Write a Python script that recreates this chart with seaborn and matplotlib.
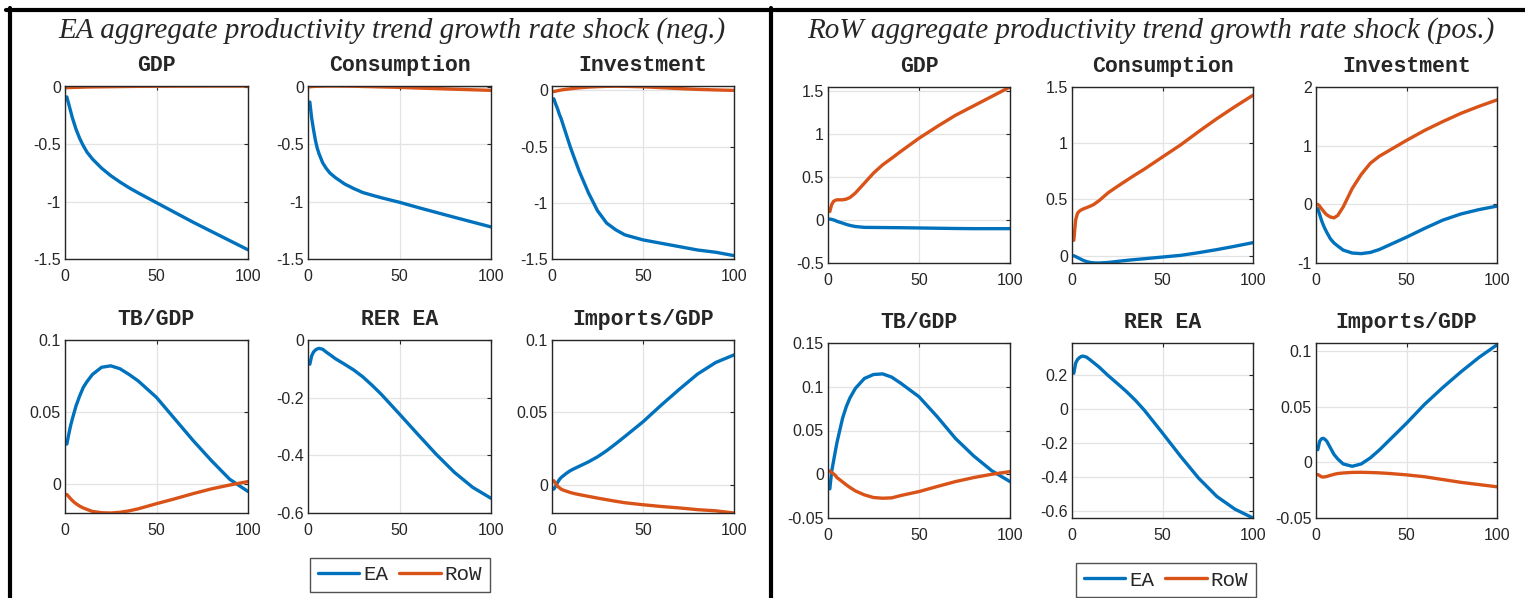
import numpy as np
import pandas as pd
import seaborn as sns
import matplotlib.pyplot as plt
from matplotlib import font_manager
from matplotlib.lines import Line2D
from matplotlib.ticker import FuncFormatter

t = [1, 2, 3, 4, 5, 6, 8, 10, 12, 15, 20, 25, 30, 35, 40, 50, 60, 70, 80, 90, 100]

# ---- EA aggregate productivity trend growth rate shock (neg.)
neg_gdp_ea = [-0.09, -0.15, -0.21, -0.27, -0.32, -0.37, -0.45, -0.515, -0.57, -0.63, -0.71, -0.775, -0.83,
              -0.88, -0.925, -1.01, -1.095, -1.18, -1.26, -1.34, -1.42]
neg_gdp_row = [-0.01, -0.009, -0.008, -0.008, -0.007, -0.007, -0.006, -0.005, -0.004, -0.003, -0.002,
               -0.001, 0.0, 0.001, 0.002, 0.003, 0.004, 0.004, 0.005, 0.005, 0.005]
neg_cons_ea = [-0.13, -0.27, -0.37, -0.46, -0.53, -0.58, -0.66, -0.71, -0.75, -0.79, -0.845, -0.885, -0.92,
               -0.943, -0.965, -1.005, -1.05, -1.093, -1.136, -1.178, -1.22]
neg_cons_row = [0.003, 0.005, 0.006, 0.007, 0.008, 0.008, 0.009, 0.01, 0.01, 0.01, 0.009, 0.008, 0.006,
                0.004, 0.002, -0.002, -0.008, -0.013, -0.018, -0.023, -0.028]
neg_inv_ea = [-0.074, -0.12, -0.16, -0.21, -0.25, -0.30, -0.40, -0.50, -0.59, -0.72, -0.91, -1.07, -1.18,
              -1.24, -1.285, -1.33, -1.36, -1.39, -1.42, -1.44, -1.47]
neg_inv_row = [-0.01, -0.006, -0.002, 0.001, 0.004, 0.007, 0.011, 0.015, 0.019, 0.024, 0.03, 0.034, 0.037,
               0.038, 0.037, 0.033, 0.025, 0.017, 0.01, 0.005, 0.001]
neg_tb_ea = [0.0275, 0.034, 0.040, 0.045, 0.0495, 0.054, 0.061, 0.067, 0.071, 0.076, 0.081, 0.082, 0.080,
             0.076, 0.0715, 0.060, 0.045, 0.030, 0.016, 0.003, -0.0055]
neg_tb_row = [-0.0076, -0.009, -0.0105, -0.0118, -0.013, -0.014, -0.0157, -0.017, -0.018, -0.0194, -0.0203,
              -0.0205, -0.020, -0.019, -0.0176, -0.014, -0.0106, -0.007, -0.0037, -0.001, 0.0014]
neg_rer_ea = [-0.084, -0.055, -0.042, -0.035, -0.031, -0.029, -0.032, -0.042, -0.051, -0.065, -0.084, -0.104,
              -0.128, -0.157, -0.188, -0.257, -0.327, -0.396, -0.459, -0.511, -0.549]
neg_imp_ea = [-0.003, -0.001, 0.0015, 0.0035, 0.005, 0.006, 0.008, 0.0097, 0.011, 0.0128, 0.0158, 0.0193,
              0.0235, 0.0283, 0.0333, 0.0435, 0.055, 0.066, 0.0765, 0.0845, 0.0897]
neg_imp_row = [0.0028, 0.001, -0.001, -0.002, -0.003, -0.0036, -0.0045, -0.0053, -0.006, -0.0068, -0.008,
               -0.0092, -0.0103, -0.0114, -0.0124, -0.0138, -0.015, -0.016, -0.0172, -0.018, -0.0195]

# ---- RoW aggregate productivity trend growth rate shock (pos.)
pos_gdp_ea = [0.012, 0.008, 0.002, -0.005, -0.015, -0.022, -0.035, -0.05, -0.062, -0.075, -0.085, -0.086,
              -0.087, -0.088, -0.089, -0.092, -0.095, -0.098, -0.1, -0.1, -0.1]
pos_gdp_row = [0.10, 0.18, 0.217, 0.23, 0.236, 0.236, 0.236, 0.244, 0.262, 0.314, 0.43, 0.547, 0.643, 0.72,
               0.80, 0.953, 1.09, 1.22, 1.33, 1.44, 1.55]
pos_cons_ea = [0.0, -0.008, -0.016, -0.024, -0.032, -0.04, -0.052, -0.06, -0.064, -0.065, -0.06, -0.051,
               -0.042, -0.034, -0.027, -0.012, 0.003, 0.027, 0.054, 0.084, 0.116]
pos_cons_row = [0.137, 0.316, 0.376, 0.395, 0.406, 0.414, 0.427, 0.44, 0.455, 0.49, 0.56, 0.615, 0.668,
                0.72, 0.77, 0.878, 0.985, 1.104, 1.218, 1.325, 1.427]
pos_inv_ea = [-0.074, -0.17, -0.27, -0.35, -0.42, -0.48, -0.59, -0.66, -0.71, -0.78, -0.83, -0.84, -0.82,
              -0.77, -0.70, -0.56, -0.41, -0.27, -0.165, -0.09, -0.03]
pos_inv_row = [0.0, -0.03, -0.074, -0.11, -0.15, -0.18, -0.217, -0.23, -0.19, -0.046, 0.27, 0.51, 0.70,
               0.82, 0.91, 1.09, 1.26, 1.41, 1.55, 1.67, 1.78]
pos_tb_ea = [-0.0167, 0.003, 0.0145, 0.026, 0.037, 0.046, 0.064, 0.077, 0.087, 0.098, 0.1095, 0.114, 0.1147,
             0.111, 0.104, 0.0886, 0.0658, 0.041, 0.021, 0.004, -0.0084]
pos_tb_row = [0.0038, 0.002, 0.0005, -0.0013, -0.004, -0.0055, -0.0088, -0.012, -0.015, -0.019, -0.0236,
              -0.0266, -0.0274, -0.027, -0.0243, -0.0198, -0.014, -0.0084, -0.0038, 0.0, 0.003]
pos_rer_ea = [0.212, 0.271, 0.292, 0.303, 0.31, 0.313, 0.307, 0.291, 0.274, 0.248, 0.198, 0.152, 0.105,
              0.053, -0.006, -0.14, -0.277, -0.406, -0.513, -0.588, -0.64]
pos_imp_ea = [0.0113, 0.0188, 0.021, 0.0215, 0.0205, 0.0188, 0.0128, 0.0069, 0.003, -0.0015, -0.0036,
              -0.0015, 0.0039, 0.011, 0.019, 0.035, 0.052, 0.067, 0.081, 0.094, 0.1054]
pos_imp_row = [-0.011, -0.012, -0.013, -0.0133, -0.013, -0.0127, -0.0117, -0.0108, -0.0101, -0.0096,
               -0.0091, -0.009, -0.0092, -0.0095, -0.010, -0.0113, -0.013, -0.0155, -0.018, -0.020, -0.022]

titles = ["GDP", "Consumption", "Investment", "TB/GDP", "RER EA", "Imports/GDP"]
block_titles = ["EA aggregate productivity trend growth rate shock (neg.)",
                "RoW aggregate productivity trend growth rate shock (pos.)"]

neg_series = [(neg_gdp_ea, neg_gdp_row), (neg_cons_ea, neg_cons_row), (neg_inv_ea, neg_inv_row),
              (neg_tb_ea, neg_tb_row), (neg_rer_ea, None), (neg_imp_ea, neg_imp_row)]
pos_series = [(pos_gdp_ea, pos_gdp_row), (pos_cons_ea, pos_cons_row), (pos_inv_ea, pos_inv_row),
              (pos_tb_ea, pos_tb_row), (pos_rer_ea, None), (pos_imp_ea, pos_imp_row)]

neg_yticks = [[-1.5, -1, -0.5, 0], [-1.5, -1, -0.5, 0], [-1.5, -1, -0.5, 0],
              [0, 0.05, 0.1], [-0.6, -0.4, -0.2, 0], [0, 0.05, 0.1]]
pos_yticks = [[-0.5, 0, 0.5, 1, 1.5], [0, 0.5, 1, 1.5], [-1, 0, 1, 2],
              [-0.05, 0, 0.05, 0.1, 0.15], [-0.6, -0.4, -0.2, 0, 0.2], [-0.05, 0, 0.05, 0.1]]
neg_ylim = [(-1.5, 0.005), (-1.5, 0.01), (-1.5, 0.04), (-0.0205, 0.1), (-0.6, 0.0), (-0.0195, 0.1)]
pos_ylim = [(-0.5, 1.55), (-0.065, 1.5), (-1, 2), (-0.05, 0.15), (-0.64, 0.39), (-0.05, 0.107)]

# axes boxes in pixels (left, top, right, bottom) of the 1525x598 canvas
W, H = 1525, 598
neg_cols = [(65, 248), (308, 491), (552, 734)]
neg_rows = [(86, 259), (340, 513)]
pos_cols = [(828, 1010), (1072, 1253), (1316, 1497)]
pos_rows = [(87, 263), (343, 518)]

BLUE = "#0072BD"
ORANGE = "#D95319"
LW = 2.4

sns.set_style("white")
plt.rcParams["axes.unicode_minus"] = False

# MATLAB draws tick labels in a narrow Helvetica; use a narrow face if one is around
installed = {f.name for f in font_manager.fontManager.ttflist}
tick_font = {"family": "Liberation Sans", "size": 11.5}
if "Liberation Sans Narrow" in installed:
    tick_font = {"family": "Liberation Sans Narrow", "size": 13}
elif "DejaVu Sans Condensed" in installed:
    tick_font = {"family": "DejaVu Sans Condensed", "size": 11.5}
plt.rcParams["font.family"] = [tick_font["family"], "DejaVu Sans"]

fig = plt.figure(figsize=(W / 100, H / 100), dpi=100)
fmt = FuncFormatter(lambda v, p: "%g" % v)


def draw_block(series, yticks, ylims, cols, rows):
    for i, (ea, row) in enumerate(series):
        x0, x1 = cols[i % 3]
        y0, y1 = rows[i // 3]
        ax = fig.add_axes([x0 / W, 1 - y1 / H, (x1 - x0) / W, (y1 - y0) / H])
        sns.lineplot(x=t, y=ea, ax=ax, color=BLUE, linewidth=LW, legend=False)
        if row is not None:
            sns.lineplot(x=t, y=row, ax=ax, color=ORANGE, linewidth=LW, legend=False)
        ax.set_xlim(0, 100)
        ax.set_ylim(*ylims[i])
        ax.set_xticks([0, 50, 100])
        ax.set_yticks(yticks[i])
        ax.yaxis.set_major_formatter(fmt)
        ax.xaxis.set_major_formatter(fmt)
        ax.set_xlabel("")
        ax.set_ylabel("")
        ax.grid(True, color="#e3e3e3", linewidth=0.9)
        ax.tick_params(direction="in", length=3, width=0.8, top=True, right=True,
                       labelsize=tick_font["size"], colors="#262626")
        ax.tick_params(axis="x", pad=7)
        ax.tick_params(axis="y", pad=3)
        for s in ax.spines.values():
            s.set_color("#262626")
            s.set_linewidth(1.0)
        ax.set_title(titles[i], fontfamily="Liberation Mono", fontweight="bold", fontsize=15.5, pad=11)


draw_block(neg_series, neg_yticks, neg_ylim, neg_cols, neg_rows)
draw_block(pos_series, pos_yticks, pos_ylim, pos_cols, pos_rows)

# block headings
fig.text(392 / W, 1 - 31 / H, block_titles[0], ha="center", va="center",
         fontfamily="Liberation Serif", style="italic", fontsize=21)
fig.text(1151 / W, 1 - 31 / H, block_titles[1], ha="center", va="center",
         fontfamily="Liberation Serif", style="italic", fontsize=21)

# legends under the middle column
handles = [Line2D([], [], color=BLUE, lw=LW), Line2D([], [], color=ORANGE, lw=LW)]
for cx, cy in [(400, 575), (1166, 580)]:
    leg = fig.legend(handles, ["EA", "RoW"], loc="center", bbox_to_anchor=(cx / W, 1 - cy / H),
                     ncol=2, frameon=True, fancybox=False, handlelength=2.0, handletextpad=0.2,
                     columnspacing=0.5, borderpad=0.35, borderaxespad=0.2,
                     prop={"family": "Liberation Mono", "size": 15})
    leg.get_frame().set_edgecolor("#262626")
    leg.get_frame().set_linewidth(1.0)
    for txt in leg.get_texts():
        txt.set_color("#262626")

# black frame lines of the two panels
fig.add_artist(Line2D([6 / W, 1], [1 - 10 / H, 1 - 10 / H], color="black", lw=3, transform=fig.transFigure))
fig.add_artist(Line2D([9.5 / W, 9.5 / W], [0, 1 - 8 / H], color="black", lw=3, transform=fig.transFigure))
fig.add_artist(Line2D([771.5 / W, 771.5 / W], [0, 1 - 8 / H], color="black", lw=3, transform=fig.transFigure))

fig.savefig("out.png", dpi=100)
